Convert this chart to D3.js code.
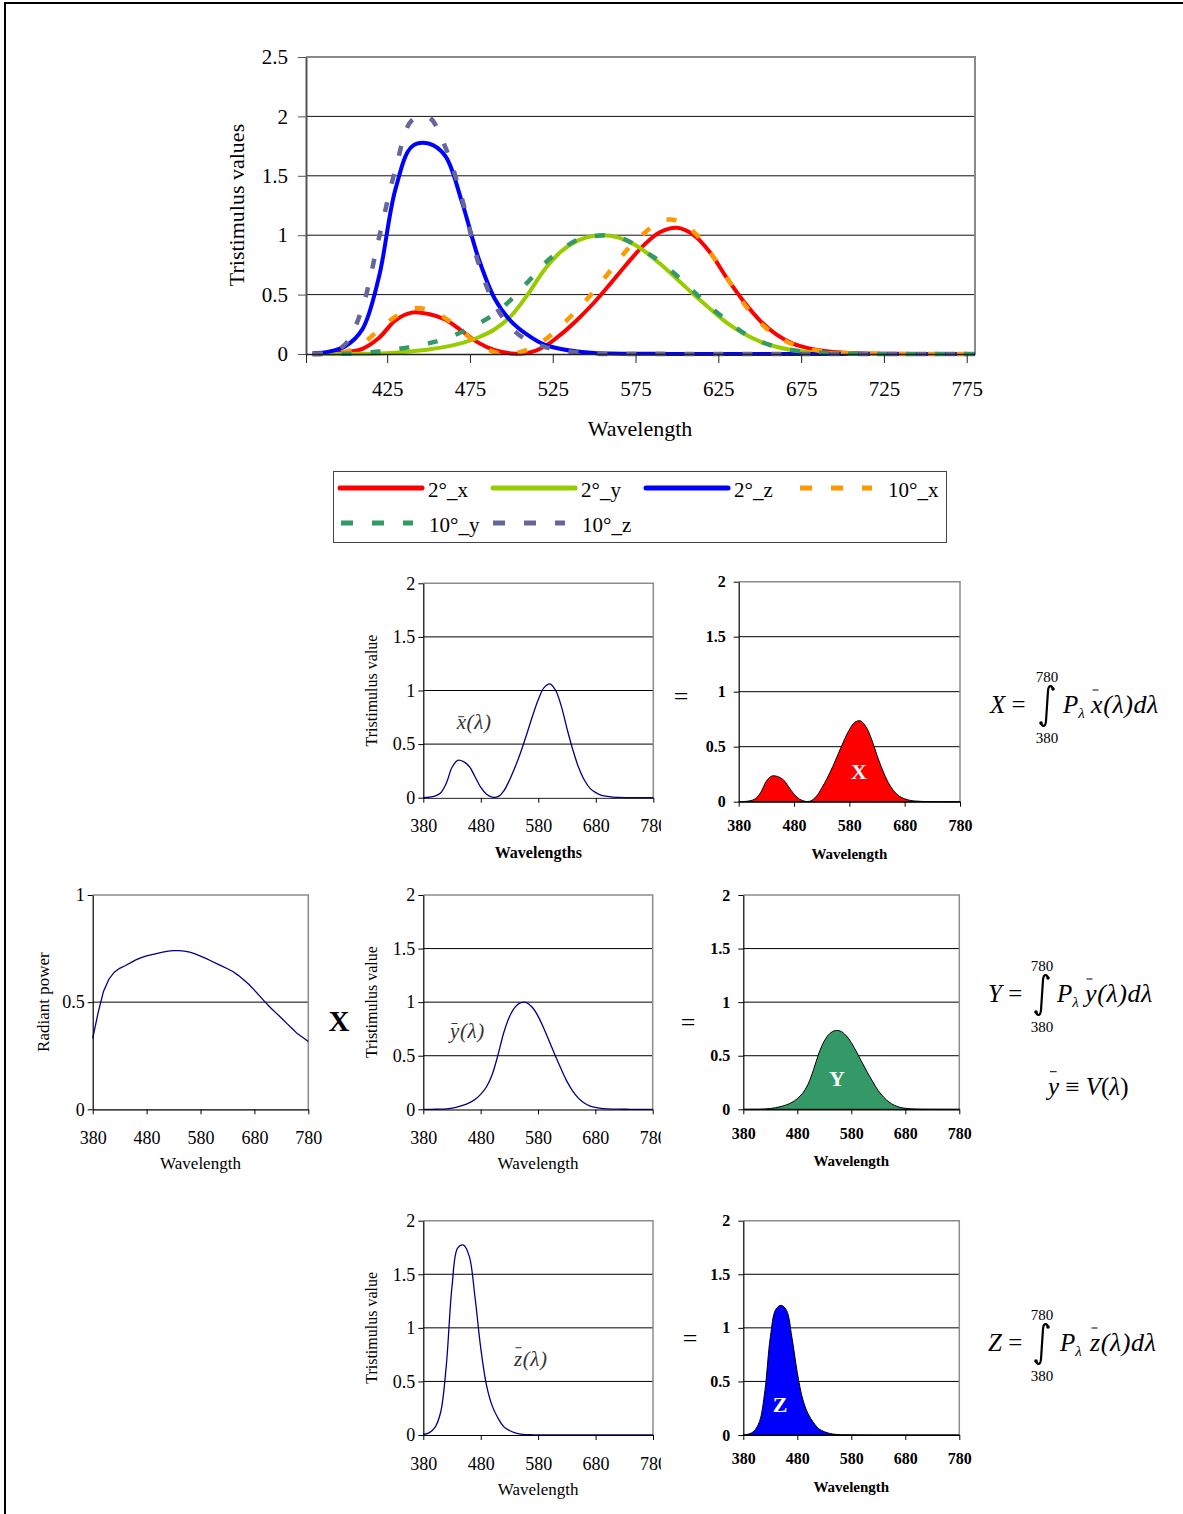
<!DOCTYPE html>
<html>
<head>
<meta charset="utf-8">
<script src="https://cdn.jsdelivr.net/npm/d3@7"></script>
<style>
  body { margin: 0; background: #fff; }
  svg { display: block; }
</style>
</head>
<body>
<svg id="fig" width="1183" height="1514"></svg>
<script>
// ---- data (10 nm steps) ----
const wavelengths = [380, 390, 400, 410, 420, 430, 440, 450, 460, 470,
    480, 490, 500, 510, 520, 530, 540, 550, 560, 570,
    580, 590, 600, 610, 620, 630, 640, 650, 660, 670,
    680, 690, 700, 710, 720, 730, 740, 750, 760, 770, 780];

// 2 degree observer
const x2 = [0.0014, 0.0042, 0.0143, 0.0435, 0.1344, 0.2839, 0.3483, 0.3362, 0.2908, 0.1954,
    0.0956, 0.0320, 0.0049, 0.0093, 0.0633, 0.1655, 0.2904, 0.4334, 0.5945, 0.7621,
    0.9163, 1.0263, 1.0622, 1.0026, 0.8544, 0.6424, 0.4479, 0.2835, 0.1649, 0.0874,
    0.0468, 0.0227, 0.0114, 0.0058, 0.0029, 0.0014, 0.0007, 0.0003, 0.0002, 0.0001, 0.0000];
const y2 = [0.0000, 0.0001, 0.0004, 0.0012, 0.0040, 0.0116, 0.0230, 0.0380, 0.0600, 0.0910,
    0.1390, 0.2080, 0.3230, 0.5030, 0.7100, 0.8620, 0.9540, 0.9950, 0.9950, 0.9520,
    0.8700, 0.7570, 0.6310, 0.5030, 0.3810, 0.2650, 0.1750, 0.1070, 0.0610, 0.0320,
    0.0170, 0.0082, 0.0041, 0.0021, 0.0010, 0.0005, 0.0002, 0.0001, 0.0001, 0.0000, 0.0000];
const z2 = [0.0065, 0.0201, 0.0679, 0.2074, 0.6456, 1.3856, 1.7471, 1.7721, 1.6692, 1.2876,
    0.8130, 0.4652, 0.2720, 0.1582, 0.0783, 0.0422, 0.0203, 0.0088, 0.0039, 0.0021,
    0.0017, 0.0011, 0.0008, 0.0003, 0.0002, 0, 0, 0, 0, 0,
    0, 0, 0, 0, 0, 0, 0, 0, 0, 0, 0];

// 10 degree observer
const x10 = [0.0002, 0.0024, 0.0191, 0.0847, 0.2045, 0.3147, 0.3837, 0.3707, 0.3023, 0.1956,
    0.0805, 0.0162, 0.0038, 0.0375, 0.1177, 0.2365, 0.3768, 0.5298, 0.7052, 0.8787,
    1.0142, 1.1185, 1.1240, 1.0305, 0.8563, 0.6475, 0.4316, 0.2683, 0.1526, 0.0813,
    0.0409, 0.0199, 0.0096, 0.0046, 0.0022, 0.0010, 0.0005, 0.0003, 0.0001, 0.0001, 0.0000];
const y10 = [0.0000, 0.0003, 0.0020, 0.0088, 0.0214, 0.0387, 0.0621, 0.0895, 0.1282, 0.1852,
    0.2536, 0.3391, 0.4608, 0.6067, 0.7618, 0.8752, 0.9620, 0.9918, 0.9973, 0.9556,
    0.8689, 0.7774, 0.6583, 0.5280, 0.3981, 0.2835, 0.1798, 0.1076, 0.0603, 0.0318,
    0.0159, 0.0077, 0.0037, 0.0018, 0.0008, 0.0004, 0.0002, 0.0001, 0.0001, 0.0000, 0.0000];
const z10 = [0.0007, 0.0105, 0.0860, 0.3894, 0.9725, 1.5535, 1.9673, 1.9948, 1.7454, 1.3176,
    0.7721, 0.4153, 0.2185, 0.1120, 0.0607, 0.0305, 0.0137, 0.0040, 0, 0,
    0, 0, 0, 0, 0, 0, 0, 0, 0, 0,
    0, 0, 0, 0, 0, 0, 0, 0, 0, 0, 0];

// source spectrum
const power = [0.331, 0.450, 0.550, 0.607, 0.640, 0.658, 0.670, 0.683, 0.697, 0.708,
    0.716, 0.722, 0.728, 0.733, 0.738, 0.740, 0.740, 0.738, 0.733, 0.725,
    0.715, 0.704, 0.692, 0.680, 0.668, 0.656, 0.643, 0.625, 0.605, 0.582,
    0.556, 0.528, 0.500, 0.474, 0.450, 0.426, 0.401, 0.377, 0.352, 0.335, 0.316];

// weighted spectra (filled areas)
const prodX = [0.0005, 0.0019, 0.0079, 0.0264, 0.0860, 0.1868, 0.2334, 0.2296, 0.2027, 0.1383,
    0.0684, 0.0231, 0.0036, 0.0068, 0.0467, 0.1225, 0.2149, 0.3198, 0.4358, 0.5525,
    0.6552, 0.7225, 0.7350, 0.6818, 0.5707, 0.4214, 0.2880, 0.1772, 0.0998, 0.0509,
    0.0260, 0.0120, 0.0057, 0.0027, 0.0013, 0.0006, 0.0003, 0.0001, 0.0001, 0.0000, 0.0000];
const prodY = [0.0000, 0.0000, 0.0002, 0.0007, 0.0026, 0.0076, 0.0154, 0.0260, 0.0418, 0.0644,
    0.0995, 0.1502, 0.2351, 0.3687, 0.5240, 0.6379, 0.7060, 0.7343, 0.7293, 0.6902,
    0.6221, 0.5329, 0.4367, 0.3420, 0.2545, 0.1738, 0.1125, 0.0669, 0.0369, 0.0186,
    0.0095, 0.0043, 0.0021, 0.0010, 0.0005, 0.0002, 0.0001, 0, 0, 0, 0];
const prodZ = [0.0022, 0.0090, 0.0373, 0.1259, 0.4132, 0.9117, 1.1706, 1.2103, 1.1634, 0.9116,
    0.5821, 0.3359, 0.1980, 0.1160, 0.0578, 0.0312, 0.0150, 0.0065, 0.0029, 0.0015,
    0.0012, 0.0008, 0.0006, 0.0002, 0.0001, 0, 0, 0, 0, 0,
    0, 0, 0, 0, 0, 0, 0, 0, 0, 0, 0];

const seriesNames = ["2°_x", "2°_y", "2°_z", "10°_x", "10°_y", "10°_z"];
const seriesValues = [x2, y2, z2, x10, y10, z10];
const topXTicks = [425, 475, 525, 575, 625, 675, 725, 775];
const topYTicks = [0, 0.5, 1, 1.5, 2, 2.5];
const panelXTicks = [380, 480, 580, 680, 780];
const panelYTicks = [0, 0.5, 1, 1.5, 2];
const powerYTicks = [0, 0.5, 1];

// ---- styles ----
const serif = "'Liberation Serif', 'Times New Roman', serif";
const seriesColors = ["#ff0000", "#99cc00", "#0000ff", "#ff9900", "#339966", "#666699"];
const seriesDashed = [false, false, false, true, true, true];

const svg = d3.select("#fig").attr("font-family", serif);

// outer frame of the figure
svg.append("path")
    .attr("d", "M5,1514V3H1183")
    .attr("fill", "none")
    .attr("stroke", "#000")
    .attr("stroke-width", 2);

// clip for the middle column (last x label is cut off)
svg.append("defs").append("clipPath")
    .attr("id", "midClip")
    .append("rect")
    .attr("x", 0).attr("y", 0)
    .attr("width", 661).attr("height", 1514);

// restyle an axis group
function dress(g, size, bold, color, width) {
    g.attr("font-family", null).attr("font-size", null);
    g.select(".domain").attr("stroke", color).attr("stroke-width", width);
    g.selectAll(".tick line").attr("stroke", color).attr("stroke-width", 1);
    g.selectAll(".tick text")
        .attr("font-family", serif)
        .attr("font-size", size)
        .attr("font-weight", bold ? "bold" : "normal")
        .attr("fill", "#000");
}

// ---- big chart on top ----
function drawTop() {
    const L = 306, R = 975, T = 57, B = 354;
    const x = d3.scaleLinear().domain([376, 780]).range([L, R]);
    const y = d3.scaleLinear().domain([0, 2.5]).range([B, T]);
    const g = svg.append("g");

    // gridlines
    g.append("g").selectAll("line")
        .data(topYTicks.filter(v => v > 0 && v < 2.5))
        .join("line")
        .attr("x1", L).attr("x2", R)
        .attr("y1", d => y(d)).attr("y2", d => y(d))
        .attr("stroke", "#111").attr("stroke-width", 1);

    // plot frame (top + right)
    g.append("path")
        .attr("d", `M${L},${T}H${R}V${B}`)
        .attr("fill", "none")
        .attr("stroke", "#8a8a8a")
        .attr("stroke-width", 2);

    const line = d3.line()
        .x(d => x(d[0]))
        .y(d => y(d[1]))
        .curve(d3.curveCatmullRom.alpha(0.5));

    seriesValues.forEach((vals, i) => {
        g.append("path")
            .datum(wavelengths.map((w, j) => [w, vals[j]]))
            .attr("d", line)
            .attr("fill", "none")
            .attr("stroke", seriesColors[i])
            .attr("stroke-width", seriesDashed[i] ? 4.5 : 4)
            .attr("stroke-dasharray", seriesDashed[i] ? "10,19" : null);
    });

    // axes
    const ya = g.append("g")
        .attr("transform", `translate(${L},0)`)
        .call(d3.axisLeft(y).tickValues(topYTicks).tickSize(8).tickSizeOuter(0).tickPadding(10).tickFormat(d => d));
    dress(ya, 21, false, "#555", 2);

    const xa = g.append("g")
        .attr("transform", `translate(0,${B})`)
        .call(d3.axisBottom(x).tickValues([x.domain()[0]].concat(topXTicks)).tickSize(9).tickSizeOuter(0).tickPadding(18)
            .tickFormat(d => topXTicks.includes(d) ? d : ""));
    dress(xa, 21, false, "#222", 1.5);

    g.append("text")
        .attr("x", 640).attr("y", 436)
        .attr("text-anchor", "middle")
        .attr("font-size", 22)
        .text("Wavelength");

    g.append("text")
        .attr("transform", "translate(236,205) rotate(-90)")
        .attr("text-anchor", "middle")
        .attr("dy", "0.35em")
        .attr("font-size", 22)
        .text("Tristimulus values");

    // legend
    const lg = svg.append("g");
    lg.append("rect")
        .attr("x", 333.5).attr("y", 471.5)
        .attr("width", 613).attr("height", 71)
        .attr("fill", "#fff")
        .attr("stroke", "#444");

    const slots = [
        { x1: 340, x2: 422, ly: 488, tx: 428, ty: 497 },
        { x1: 493, x2: 575, ly: 488, tx: 581, ty: 497 },
        { x1: 646, x2: 728, ly: 488, tx: 734, ty: 497 },
        { x1: 800, x2: 872, ly: 488, tx: 888, ty: 497 },
        { x1: 341, x2: 413, ly: 523, tx: 429, ty: 532 },
        { x1: 493, x2: 565, ly: 523, tx: 582, ty: 532 }
    ];
    seriesNames.forEach((name, i) => {
        const s = slots[i];
        lg.append("line")
            .attr("x1", s.x1).attr("x2", s.x2)
            .attr("y1", s.ly).attr("y2", s.ly)
            .attr("stroke", seriesColors[i])
            .attr("stroke-width", 5)
            .attr("stroke-linecap", seriesDashed[i] ? "butt" : "round")
            .attr("stroke-dasharray", seriesDashed[i] ? "12,19" : null);
        lg.append("text")
            .attr("x", s.tx).attr("y", s.ty)
            .attr("font-size", 21)
            .text(name);
    });
}

// ---- small panels ----
function drawPanel(p) {
    const g = svg.append("g");
    const x = d3.scaleLinear().domain([380, 780]).range([p.left, p.right]);
    const y = d3.scaleLinear().domain([0, p.yMax]).range([p.bottom, p.top]);
    const ticks = p.yMax === 1 ? powerYTicks : panelYTicks;

    g.append("g").selectAll("line")
        .data(ticks.filter(v => v > 0 && v < p.yMax))
        .join("line")
        .attr("x1", p.left).attr("x2", p.right)
        .attr("y1", d => y(d)).attr("y2", d => y(d))
        .attr("stroke", "#000").attr("stroke-width", 1);

    g.append("path")
        .attr("d", `M${p.left},${p.top}H${p.right}V${p.bottom}`)
        .attr("fill", "none")
        .attr("stroke", "#8c8c8c")
        .attr("stroke-width", 1.5);

    const pts = wavelengths.map((w, i) => [w, p.values[i]]);
    if (p.fill) {
        const area = d3.area()
            .x(d => x(d[0]))
            .y0(y(0))
            .y1(d => y(Math.max(0, d[1])))
            .curve(d3.curveCatmullRom.alpha(0.5));
        g.append("path")
            .datum(pts)
            .attr("d", area)
            .attr("fill", p.fill)
            .attr("stroke", "#000")
            .attr("stroke-width", 1);
    } else {
        const line = d3.line()
            .x(d => x(d[0]))
            .y(d => y(d[1]))
            .curve(p.linear ? d3.curveLinear : d3.curveCatmullRom.alpha(0.5));
        g.append("path")
            .datum(pts)
            .attr("d", line)
            .attr("fill", "none")
            .attr("stroke", "#000080")
            .attr("stroke-width", 1.3);
    }

    const tickFont = p.bold ? 16 : 18;
    const ya = g.append("g")
        .attr("transform", `translate(${p.left},0)`)
        .call(d3.axisLeft(y).tickValues(ticks).tickSize(5).tickSizeOuter(0)
            .tickPadding(p.bold ? 8 : 3).tickFormat(d => d));
    dress(ya, tickFont, p.bold, "#000", 1.2);

    const xa = g.append("g")
        .attr("transform", `translate(0,${p.bottom})`)
        .call(d3.axisBottom(x).tickValues(panelXTicks).tickSize(5).tickSizeOuter(0)
            .tickPadding(p.bold ? 13 : 17));
    dress(xa, tickFont, p.bold, "#000", 1.2);
    if (p.clip) xa.attr("clip-path", "url(#midClip)");

    g.append("text")
        .attr("x", (p.left + p.right) / 2)
        .attr("y", p.bottom + (p.bold ? 57 : 60))
        .attr("text-anchor", "middle")
        .attr("font-size", p.titleSize)
        .attr("font-weight", p.titleBold ? "bold" : "normal")
        .text(p.xTitle);

    if (p.yTitle) {
        g.append("text")
            .attr("transform", `translate(${p.left - p.yTitleOff},${(p.top + p.bottom) / 2}) rotate(-90)`)
            .attr("text-anchor", "middle")
            .attr("dy", "0.35em")
            .attr("font-size", p.yTitleSize)
            .text(p.yTitle);
    }

    if (p.inner) {
        g.append("text")
            .attr("x", p.inner[1]).attr("y", p.inner[2])
            .attr("text-anchor", "middle")
            .attr("font-size", 22)
            .attr("font-weight", "bold")
            .attr("fill", "#fff")
            .text(p.inner[0]);
    }
}

// italic label with a bar over its first letter
function barLabel(txt, x, base, size, barY, color) {
    const t = svg.append("text")
        .attr("x", x).attr("y", base)
        .attr("font-size", size)
        .attr("font-style", "italic")
        .attr("letter-spacing", 0.6)
        .attr("fill", color)
        .text(txt);
    svg.append("line")
        .attr("x1", x + 1.5).attr("x2", x + 7.5)
        .attr("y1", barY).attr("y2", barY)
        .attr("stroke", color).attr("stroke-width", 1);
    return t;
}

function formula(o) {
    const t = svg.append("text")
        .attr("x", o.x).attr("y", o.base)
        .attr("font-size", 25);
    t.append("tspan").attr("font-style", "italic").text(o.letter);
    t.append("tspan").text(" =");

    // tall integral sign, drawn as a stroke so the limits sit close to it
    const cx = o.intX, top = o.base - 28, bot = o.base + 14;
    svg.append("path")
        .attr("d", `M${cx + 6},${top + 4} C${cx + 5},${top} ${cx + 1.5},${top - 0.5} ${cx + 1},${top + 6}` +
            ` L${cx - 1},${bot - 6} C${cx - 1.5},${bot + 0.5} ${cx - 5},${bot} ${cx - 6},${bot - 4}`)
        .attr("fill", "none")
        .attr("stroke", "#000")
        .attr("stroke-width", 2.2)
        .attr("stroke-linecap", "round");
    svg.append("circle").attr("cx", cx + 6).attr("cy", top + 4).attr("r", 1.8);
    svg.append("circle").attr("cx", cx - 6).attr("cy", bot - 4).attr("r", 1.8);

    svg.append("text")
        .attr("x", o.intX).attr("y", o.base - 31)
        .attr("text-anchor", "middle")
        .attr("font-size", 15)
        .text("780");
    svg.append("text")
        .attr("x", o.intX).attr("y", o.base + 30)
        .attr("text-anchor", "middle")
        .attr("font-size", 15)
        .text("380");

    const p = svg.append("text")
        .attr("x", o.pX).attr("y", o.base)
        .attr("font-size", 25)
        .attr("font-style", "italic");
    p.append("tspan").text("P");
    p.append("tspan").attr("font-size", 15).attr("dy", 5).text("λ");

    barLabel(o.bar + "(λ)dλ", o.barX, o.base, 26, o.base - 23, "#000");
}

drawTop();

const panels = [
    { left: 423.3, right: 653.3, top: 583.3, bottom: 797.7, yMax: 2, values: x2, bold: false, clip: true,
      xTitle: "Wavelengths", titleSize: 16, titleBold: true, yTitle: "Tristimulus value", yTitleOff: 52, yTitleSize: 16 },
    { left: 738.7, right: 960, top: 581.7, bottom: 801.7, yMax: 2, values: prodX, fill: "#ff0000", bold: true,
      xTitle: "Wavelength", titleSize: 15, titleBold: true, inner: ["X", 859, 779] },
    { left: 92.7, right: 308.3, top: 895, bottom: 1109.3, yMax: 1, values: power, linear: true, bold: false,
      xTitle: "Wavelength", titleSize: 17, titleBold: false, yTitle: "Radiant power", yTitleOff: 50, yTitleSize: 17 },
    { left: 423.3, right: 652.7, top: 895, bottom: 1109.3, yMax: 2, values: y2, bold: false, clip: true,
      xTitle: "Wavelength", titleSize: 17, titleBold: false, yTitle: "Tristimulus value", yTitleOff: 52, yTitleSize: 16 },
    { left: 743.3, right: 959.3, top: 895, bottom: 1109.3, yMax: 2, values: prodY, fill: "#339966", bold: true,
      xTitle: "Wavelength", titleSize: 15, titleBold: true, inner: ["Y", 837, 1086] },
    { left: 423.3, right: 653, top: 1220.7, bottom: 1435, yMax: 2, values: z2, bold: false, clip: true,
      xTitle: "Wavelength", titleSize: 17, titleBold: false, yTitle: "Tristimulus value", yTitleOff: 52, yTitleSize: 16 },
    { left: 743.3, right: 959.3, top: 1220.7, bottom: 1435, yMax: 2, values: prodZ, fill: "#0000ff", bold: true,
      xTitle: "Wavelength", titleSize: 15, titleBold: true, inner: ["Z", 780, 1412] }
];
panels.forEach(drawPanel);

// curve names inside the middle panels
barLabel("x(λ)", 456.7, 729, 21, 716.7, "#333");
barLabel("y(λ)", 450, 1038, 21, 1023.5, "#333");
barLabel("z(λ)", 514, 1366, 21, 1347.7, "#333");

// operators between panels
svg.append("text").attr("x", 339).attr("y", 1031).attr("text-anchor", "middle")
    .attr("font-size", 29).attr("font-weight", "bold").text("X");
[[681, 705], [688, 1031], [690, 1347]].forEach(([cx, by]) => {
    svg.append("text").attr("x", cx).attr("y", by).attr("text-anchor", "middle")
        .attr("font-size", 26).text("=");
});

// integrals on the right
formula({ x: 990, base: 713, letter: "X", intX: 1047, pX: 1063, barX: 1091, bar: "x" });
formula({ x: 988, base: 1002, letter: "Y", intX: 1042, pX: 1057, barX: 1085, bar: "y" });
formula({ x: 988, base: 1351, letter: "Z", intX: 1042, pX: 1060, barX: 1090, bar: "z" });

// luminous efficiency note
const v = svg.append("text").attr("x", 1048).attr("y", 1095).attr("font-size", 25);
v.append("tspan").attr("font-style", "italic").text("y");
v.append("tspan").text(" ≡ ");
v.append("tspan").attr("font-style", "italic").text("V");
v.append("tspan").text("(");
v.append("tspan").attr("font-style", "italic").text("λ");
v.append("tspan").text(")");
svg.append("line")
    .attr("x1", 1050).attr("x2", 1056.7)
    .attr("y1", 1071.7).attr("y2", 1071.7)
    .attr("stroke", "#000").attr("stroke-width", 1);
</script>
</body>
</html>
